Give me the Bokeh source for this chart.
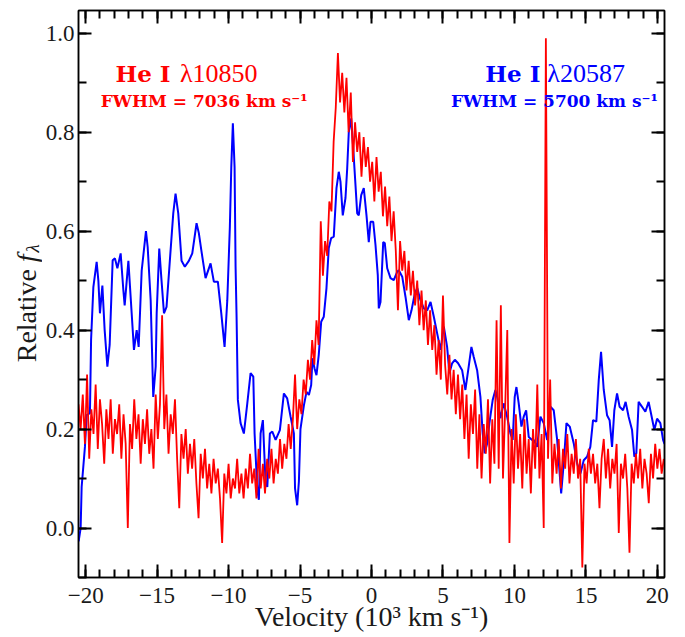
import numpy as np
from math import pi
from bokeh.plotting import figure
from bokeh.layouts import row
from bokeh.core.properties import value
from bokeh.models import (Label, LinearAxis, FixedTicker, PrintfTickFormatter,
                          CustomJSTickFormatter, Range1d)
from bokeh.embed import file_html
from bokeh.resources import INLINE

# ---------------- data ----------------
# He I 20587 (blue), velocity in 10^3 km/s
blue_v = [-20.49, -20.35, -20.28, -20.05, -19.93, -19.70, -19.62, -19.46, -19.23, -19.11,
          -19.00, -18.83, -18.67, -18.48, -18.32, -18.11, -17.95, -17.78, -17.55, -17.36,
          -17.27, -17.01, -16.78, -16.62, -16.43, -16.29, -16.08, -15.78, -15.66, -15.45,
          -15.27, -15.10, -15.03, -14.85, -14.69, -14.52, -14.34, -14.11, -13.87, -13.71,
          -13.52, -13.29, -13.06, -12.78, -12.54, -12.24, -12.08, -11.91, -11.61, -11.26,
          -11.03, -10.75, -10.51, -10.28, -10.09, -9.91, -9.81, -9.70, -9.58, -9.51,
          -9.44, -9.35, -9.16, -8.93, -8.69, -8.46, -8.27, -8.18, -7.99, -7.88,
          -7.76, -7.60, -7.41, -7.29, -7.11, -6.94, -6.71, -6.41, -6.13, -5.90,
          -5.66, -5.43, -5.35, -5.20, -5.08, -4.97, -4.73, -4.55, -4.38, -4.22,
          -4.13, -3.99, -3.85, -3.69, -3.52, -3.34, -3.15, -2.99, -2.82, -2.64,
          -2.45, -2.29, -2.17, -2.01, -1.82, -1.70, -1.59, -1.42, -1.28, -1.12,
          -1.00, -0.89, -0.72, -0.54, -0.35, -0.19, -0.07, 0.12, 0.28, 0.44,
          0.51, 0.63, 0.82, 0.93, 1.10, 1.33, 1.56, 1.80, 1.91, 2.15,
          2.38, 2.61, 2.80, 3.03, 3.20, 3.43, 3.66, 3.90, 4.13, 4.36,
          4.59, 4.83, 5.06, 5.29, 5.45, 5.64, 5.83, 6.06, 6.34, 6.57,
          6.80, 6.99, 7.15, 7.39, 7.62, 7.78, 7.92, 8.09, 8.25, 8.48,
          8.67, 8.79, 9.02, 9.25, 9.49, 9.72, 9.88, 10.02, 10.14, 10.30,
          10.49, 10.65, 10.82, 11.00, 11.24, 11.35, 11.59, 11.82, 12.05, 12.29,
          12.52, 12.75, 12.99, 13.27, 13.45, 13.64, 13.87, 14.15, 14.38, 14.62,
          14.85, 15.08, 15.31, 15.50, 15.73, 15.90, 16.06, 16.25, 16.48, 16.66,
          16.83, 16.99, 17.18, 17.36, 17.60, 17.78, 17.99, 18.23, 18.39, 18.53,
          18.69, 18.93, 19.16, 19.39, 19.56, 19.79, 19.98, 20.21, 20.40, 20.50]
blue_f = [-0.027, 0.000, 0.083, 0.164, 0.228, 0.232, 0.380, 0.487, 0.538, 0.500,
          0.434, 0.490, 0.400, 0.326, 0.370, 0.541, 0.545, 0.525, 0.555, 0.480,
          0.450, 0.540, 0.434, 0.360, 0.400, 0.366, 0.520, 0.600, 0.568, 0.460,
          0.265, 0.326, 0.434, 0.565, 0.500, 0.434, 0.447, 0.540, 0.636, 0.676,
          0.636, 0.540, 0.528, 0.540, 0.555, 0.616, 0.596, 0.562, 0.505, 0.535,
          0.498, 0.498, 0.434, 0.366, 0.460, 0.609, 0.730, 0.818, 0.730, 0.528,
          0.427, 0.259, 0.212, 0.191, 0.252, 0.313, 0.306, 0.191, 0.077, 0.057,
          0.191, 0.218, 0.091, 0.083, 0.191, 0.195, 0.178, 0.198, 0.272, 0.262,
          0.225, 0.191, 0.080, 0.046, 0.094, 0.200, 0.248, 0.275, 0.269, 0.289,
          0.343, 0.323, 0.309, 0.350, 0.417, 0.427, 0.485, 0.566, 0.586, 0.589,
          0.687, 0.720, 0.700, 0.632, 0.667, 0.727, 0.800, 0.828, 0.768, 0.693,
          0.636, 0.632, 0.673, 0.687, 0.632, 0.578, 0.619, 0.619, 0.572, 0.511,
          0.444, 0.457, 0.578, 0.576, 0.525, 0.505, 0.501, 0.518, 0.521, 0.508,
          0.467, 0.420, 0.440, 0.474, 0.485, 0.460, 0.444, 0.440, 0.457, 0.427,
          0.394, 0.360, 0.407, 0.366, 0.313, 0.333, 0.340, 0.333, 0.319, 0.279,
          0.326, 0.366, 0.346, 0.319, 0.265, 0.191, 0.151, 0.171, 0.212, 0.259,
          0.279, 0.265, 0.222, 0.252, 0.225, 0.191, 0.178, 0.265, 0.285, 0.252,
          0.205, 0.225, 0.238, 0.184, 0.178, 0.178, 0.164, 0.225, 0.212, 0.178,
          0.245, 0.238, 0.178, 0.070, 0.131, 0.212, 0.205, 0.171, 0.131, 0.110,
          0.137, 0.144, 0.164, 0.218, 0.215, 0.299, 0.356, 0.279, 0.228, 0.218,
          0.164, 0.238, 0.272, 0.245, 0.238, 0.255, 0.225, 0.198, 0.144, 0.151,
          0.255, 0.245, 0.235, 0.255, 0.231, 0.198, 0.221, 0.212, 0.178, 0.170]

# He I 10850 (red), sampled on a regular velocity grid
red_v_start = -20.5
red_v_step = 0.15
red_f = [0.25, 0.20, 0.27, 0.17, 0.31, 0.14, 0.24, 0.19, 0.29, 0.16,
         0.26, 0.21, 0.13, 0.24, 0.18, 0.26, 0.15, 0.22, 0.19, 0.25,
         0.14, 0.23, 0.17, 0.00, 0.21, 0.16, 0.26, 0.18, 0.23, 0.13,
         0.22, 0.17, 0.24, 0.15, 0.20, 0.12, 0.27, 0.18, 0.25, 0.43,
         0.20, 0.27, 0.15, 0.23, 0.19, 0.26, 0.14, 0.04, 0.19, 0.14,
         0.20, 0.11, 0.17, 0.12, 0.18, 0.09, 0.02, 0.15, 0.10, 0.16,
         0.08, 0.13, 0.07, 0.14, 0.09, 0.12, 0.06, -0.03, 0.11, 0.07,
         0.13, 0.06, 0.10, 0.08, 0.14, 0.07, 0.11, 0.06, 0.12, 0.08,
         0.15, 0.09, 0.12, 0.06, 0.16, 0.08, 0.13, 0.07, 0.14, 0.10,
         0.16, 0.09, 0.14, 0.11, 0.18, 0.12, 0.17, 0.14, 0.21, 0.16,
         0.22, 0.31, 0.20, 0.26, 0.23, 0.30, 0.27, 0.34, 0.30, 0.38,
         0.33, 0.42, 0.37, 0.62, 0.51, 0.58, 0.55, 0.66, 0.64, 0.78,
         0.85, 0.96, 0.86, 0.92, 0.84, 0.91, 0.80, 0.88, 0.74, 0.82,
         0.76, 0.80, 0.71, 0.79, 0.73, 0.77, 0.70, 0.74, 0.66, 0.75,
         0.68, 0.72, 0.63, 0.69, 0.61, 0.67, 0.58, 0.64, 0.56, 0.44,
         0.58, 0.52, 0.56, 0.48, 0.54, 0.47, 0.52, 0.45, 0.50, 0.41,
         0.48, 0.40, 0.46, 0.37, 0.44, 0.36, 0.41, 0.31, 0.38, 0.30,
         0.47, 0.33, 0.27, 0.35, 0.26, 0.32, 0.23, 0.31, 0.22, 0.29,
         0.18, 0.27, 0.14, 0.25, 0.19, 0.28, 0.12, 0.23, 0.10, 0.21,
         0.15, 0.26, 0.09, 0.22, 0.13, 0.42, 0.12, 0.45, 0.10, 0.24,
         0.40, -0.03, 0.20, 0.09, 0.23, 0.12, 0.19, 0.08, 0.22, 0.11,
         0.18, 0.07, 0.20, 0.12, 0.29, 0.10, 0.19, 0.00, 0.99, 0.14,
         0.30, 0.09, 0.17, 0.11, 0.18, 0.08, 0.16, 0.12, 0.19, 0.09,
         0.15, 0.11, 0.18, 0.10, 0.14, -0.08, 0.13, 0.09, 0.16, 0.11,
         0.15, 0.09, 0.13, 0.04, 0.14, 0.18, 0.10, 0.16, 0.08, 0.14,
         0.11, 0.17, -0.01, 0.13, 0.10, 0.15, 0.08, -0.05, 0.13, 0.09,
         0.15, 0.10, 0.16, 0.08, 0.14, 0.11, 0.05, 0.15, 0.10, 0.17,
         0.12, 0.16, 0.11, 0.14]
red_v = [round(red_v_start + red_v_step * i, 3) for i in range(len(red_f))]

red_name, red_wave, red_fwhm = "He I", "\u03bb10850", 7036
blue_name, blue_wave, blue_fwhm = "He I", "\u03bb20587", 5700

x_major = [-20, -15, -10, -5, 0, 5, 10, 15, 20]
x_minor = list(range(-20, 21))
y_major = [0.0, 0.2, 0.4, 0.6, 0.8, 1.0]
y_minor = [-0.1, 0.0, 0.1, 0.2, 0.3, 0.4, 0.5, 0.6, 0.7, 0.8, 0.9, 1.0]

RED = "#ff0000"
BLUE = "#0000ff"
INK = "#1a1a1a"
FONT = "Liberation Serif"
BFONT = "DejaVu Serif"

W_SIDE = 42
H = 637
TOP = 10
BOTTOM = H - 577
Y0, Y1 = -0.1, 1.046

# ---------------- main figure ----------------
p = figure(width=678 - W_SIDE, height=H, x_range=Range1d(-20.5, 20.5),
           y_range=Range1d(Y0, Y1), output_backend="svg",
           toolbar_location=None, min_border_left=78 - W_SIDE, min_border_right=14,
           min_border_top=TOP, min_border_bottom=BOTTOM)
p.xgrid.visible = False
p.ygrid.visible = False
p.outline_line_color = "black"
p.outline_line_width = 1.5

xt = FixedTicker(ticks=x_major, minor_ticks=x_minor)
yt = FixedTicker(ticks=y_major, minor_ticks=y_minor)
x_over = {v: (("\u2212" + str(-v)) if v < 0 else str(v)) for v in x_major}


def style(ax):
    ax.axis_line_color = "black"
    ax.axis_line_width = 1.5
    ax.major_tick_in = 13
    ax.major_tick_out = 0
    ax.minor_tick_in = 8
    ax.minor_tick_out = 0
    ax.major_tick_line_width = 2
    ax.minor_tick_line_width = 2
    ax.major_tick_line_color = "black"
    ax.minor_tick_line_color = "black"
    ax.major_label_text_font = FONT
    ax.major_label_text_font_size = "23px"
    ax.major_label_text_color = INK


p.xaxis.ticker = xt
p.xaxis.major_label_overrides = x_over
p.xaxis.major_label_standoff = 10
p.xaxis.axis_label = "Velocity (10\u00b3 km s\u207b\u00b9)"
p.xaxis.axis_label_text_font = FONT
p.xaxis.axis_label_text_font_size = "28px"
p.xaxis.axis_label_text_font_style = "normal"
p.xaxis.axis_label_text_color = INK
p.xaxis.axis_label_standoff = -5
p.yaxis.ticker = yt
p.yaxis.formatter = PrintfTickFormatter(format="%.1f")
p.yaxis.major_label_standoff = 4
for ax in p.xaxis + p.yaxis:
    style(ax)

blank = CustomJSTickFormatter(code="return ''")
top = LinearAxis(ticker=xt, formatter=blank, major_label_standoff=0)
right = LinearAxis(ticker=yt, formatter=blank, major_label_standoff=0)
for ax in (top, right):
    style(ax)
    ax.major_label_text_font_size = "0px"
p.add_layout(top, "above")
p.add_layout(right, "right")

# ---------------- spectra ----------------
p.line(blue_v, blue_f, line_color=BLUE, line_width=2)
p.line(red_v, red_f, line_color=RED, line_width=1.8)

# ---------------- line annotations ----------------
def lab(x, y, text, color, size, font, style="normal", align="left"):
    p.add_layout(Label(x=x, y=y, text=text, text_color=color, text_font=font,
                       text_font_size=size, text_font_style=style, text_align=align,
                       text_baseline="middle"))


lab(-14.06, 0.919, red_name, RED, "23px", BFONT, "bold", "right")
lab(-13.40, 0.919, red_wave, RED, "26px", FONT, "normal", "left")
lab(-11.7, 0.864, f"FWHM = {red_fwhm} km s\u207b\u00b9", RED, "17px", BFONT, "bold", "center")

lab(11.82, 0.919, blue_name, BLUE, "23px", BFONT, "bold", "right")
lab(12.30, 0.919, blue_wave, BLUE, "26px", FONT, "normal", "left")
lab(12.8, 0.864, f"FWHM = {blue_fwhm} km s\u207b\u00b9", BLUE, "17px", BFONT, "bold", "center")

# ---------------- y-axis title in a narrow side panel (same vertical frame) ----------------
side = figure(width=W_SIDE, height=H, x_range=Range1d(0, W_SIDE), y_range=Range1d(Y0, Y1),
              output_backend="svg", toolbar_location=None, min_border_left=0,
              min_border_right=0, min_border_top=TOP, min_border_bottom=BOTTOM,
              x_axis_location=None, y_axis_location=None)
side.grid.visible = False
side.outline_line_color = None
side.text(x=[26], y=[0.335], text=["Relative"], angle=pi / 2, text_align="left",
          text_baseline="middle", text_font=value(FONT), text_font_size="28px",
          text_color=INK)
side.text(x=[26], y=[0.537], text=["f"], angle=pi / 2, text_align="left",
          text_baseline="middle", text_font=value(FONT), text_font_size="28px",
          text_font_style="italic", text_color=INK)
side.text(x=[31.5], y=[0.557], text=["\u03bb"], angle=pi / 2, text_align="left",
          text_baseline="middle", text_font=value(FONT), text_font_size="19px",
          text_font_style="italic", text_color=INK)

layout = row(side, p)
open("out.html", "w").write(file_html(layout, INLINE))
